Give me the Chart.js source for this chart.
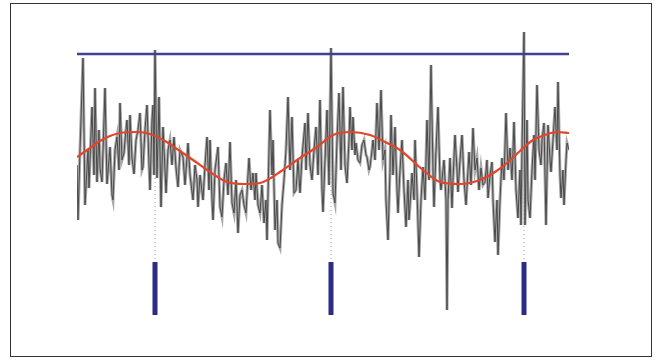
<!DOCTYPE html>
<html>
<head>
<meta charset="utf-8">
<script src="https://cdn.jsdelivr.net/npm/chart.js@4.4.1/dist/chart.umd.min.js"></script>
<style>
  html, body { margin: 0; padding: 0; background: #fff; }
  #wrap { position: relative; width: 661px; height: 361px; }
  #frame { position: absolute; left: 10px; top: 3px; width: 640px; height: 352px; border: 1.5px solid #333; pointer-events: none; }
  canvas { position: absolute; left: 0; top: 0; }
</style>
</head>
<body>
<div id="wrap">
  <canvas id="c" width="661" height="361"></canvas>
  <div id="frame"></div>
</div>
<script>
// Time (ms) of each recorded signal sample
const sigTime = [0,1,3,6,8,11,12,15,17,18,20,22,23,25,27,28,30,33,35,36,38,40,42,43,45,47,48,50,52,53,55,57,59,61,63,65,66,68,70,72,73,75,76,77,78,80,82,84,86,88,89,91,93,95,97,99,101,103,106,108,111,113,116,118,120,
121,123,126,128,130,132,133,135,136,138,141,143,145,147,149,151,153,155,157,159,161,163,165,167,169,171,172,174,176,178,179,181,183,185,187,189,190,192,193,195,196,198,200,201,203,205,207,209,211,213,215,217,219,221,223,225,228,229,231,233,235,237,239,241,243,245,246,248,250,252,254,256,258,260,262,264,266,268,270,272,273,275,276,278,279,281,283,285,287,289,290,292,293,295,296,298,300,302,304,306,308,309,311,313,314,316,318,320,321,323,325,327,329,331,332,334,335,337,338,340,342,344,346,348,350,352,354,356,357,359,361,363,364,366,367,369,370,371,373,375,376,378,380,381,383,385,387,389,391,392,394,396,398,400,402,404,406,408,410,411,413,415,416,418,420,421,423,425,427,429,431,433,435,437,439,441,443,444,445,447,448,450,451,453,455,457,458,460,462,464,465,467,469,471,473,474,476,478,480,481,483,484,486,487,489,490,492];
// Signal amplitude (µV)
const sigValue = [-8,-63,7,99,-48,7,-31,50,-18,69,-25,27,-11,-25,37,69,-27,10,-38,-43,7,20,-13,54,-3,4,17,37,-8,42,-1,-17,17,27,44,-13,-10,27,52,-8,-33,37,52,-18,107,-21,60,-50,30,-13,-36,7,17,-8,20,-11,-30,7,0,-28,14,-18,-43,-8,-23,
-50,-18,-43,-8,20,-33,17,-43,-63,-13,10,-50,-60,-23,-6,-38,15,-46,-56,-23,-76,-38,-33,-48,-56,-18,-1,-33,-16,-43,-16,-48,-56,-28,-66,-43,-83,7,47,-18,17,-73,-43,-86,-91,-48,-23,7,60,-13,40,-36,-33,-3,-36,0,34,-13,44,-8,-23,7,30,-18,57,-33,-55,-3,47,-28,109,-36,-46,17,64,-13,70,-8,-26,17,50,7,40,2,14,-3,-6,12,17,2,0,-13,-10,7,17,-3,54,7,67,-3,7,-43,-83,-13,42,-18,30,-33,-56,-13,17,-33,-70,-23,-63,-33,-16,-43,17,-33,-100,-43,-10,-43,37,-23,92,-13,-50,7,50,-23,-33,-13,-3,-43,-153,-43,-1,-51,-23,22,-13,-35,-3,22,-23,-48,-13,5,-28,29,-13,-1,-33,-11,-28,-25,-3,-41,-18,-5,-43,-85,-43,-98,-43,-1,-23,44,-13,9,-23,35,-33,-61,-13,-68,7,125,-68,37,-43,-61,-13,22,-23,72,7,-8,17,34,-68,32,-3,-15,17,50,7,75,-18,-41,-13,-48,-3,14,7];
// Slow rhythm component (µV)
const waveTime  = [0,13,23,33,43,60,73,88,103,116,133,150,168,183,206,223,240,256,273,293,308,323,346,363,383,403,418,430,443,456,468,480,492];
const waveValue = [0,9,16,21,24,25,23,16,6,-3,-15,-25,-27,-26,-13,-1,10,22,25,22,15,7,-13,-25,-27,-23,-15,-6,6,17,22,25,24];
// Detection threshold (µV) and detected events (ms)
const threshold = 103;
const eventTimes = [78, 254, 447];
const markerTop = -105, markerBottom = -158;

const signalPts = sigTime.map((t, i) => ({ x: t, y: sigValue[i] }));
const wavePts = waveTime.map((t, i) => ({ x: t, y: waveValue[i] }));
const tMin = 0, tMax = 492;

const datasets = [];
eventTimes.forEach(t => {
  datasets.push({ data: [{x: t, y: threshold}, {x: t, y: markerTop}], borderColor: '#9a9a9a', borderWidth: 1, borderDash: [1, 3], pointRadius: 0, order: 10 });
});
datasets.push({ data: signalPts, borderColor: '#a8a8a8', borderWidth: 3, pointRadius: 0, tension: 0, order: 8 });
datasets.push({ data: signalPts, borderColor: '#4a4a4a', borderWidth: 1, pointRadius: 0, tension: 0, order: 7 });
datasets.push({ data: [{x: tMin, y: threshold}, {x: tMax, y: threshold}], borderColor: '#3d4190', borderWidth: 2.5, pointRadius: 0, order: 5 });
datasets.push({ data: wavePts, borderColor: '#e4442a', borderWidth: 2.2, pointRadius: 0, cubicInterpolationMode: 'monotone', order: 4 });
eventTimes.forEach(t => {
  datasets.push({ data: [{x: t, y: markerTop}, {x: t, y: markerBottom}], borderColor: '#2a2d86', borderWidth: 5, borderCapStyle: 'butt', pointRadius: 0, order: 2 });
});

new Chart(document.getElementById('c'), {
  type: 'line',
  data: { datasets },
  options: {
    responsive: false,
    animation: false,
    events: [],
    layout: { padding: { left: 77, right: 92, top: 20, bottom: 31 } },
    plugins: { legend: { display: false }, tooltip: { enabled: false }, title: { display: false } },
    scales: {
      x: { type: 'linear', min: tMin, max: tMax, display: false },
      y: { type: 'linear', min: -173, max: 137, display: false }
    }
  }
});
</script>
</body>
</html>
